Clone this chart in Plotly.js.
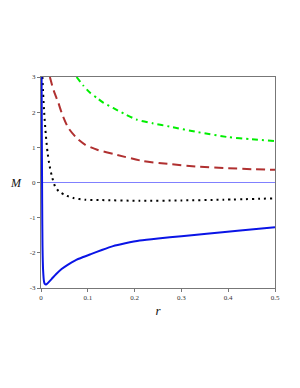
<!DOCTYPE html>
<html><head><meta charset="utf-8">
<script src="https://cdn.plot.ly/plotly-3.0.1.min.js"></script>
<style>html,body{margin:0;padding:0;background:#fff}#c{width:300px;height:388px}</style>
</head><body><div id="c"></div>
<script>
// Values
const rGreen = [0.076, 0.090, 0.105, 0.120, 0.133, 0.154, 0.180, 0.204, 0.240, 0.275, 0.336, 0.400, 0.450, 0.500];
const mGreen = [3.0, 2.76, 2.55, 2.40, 2.27, 2.12, 1.94, 1.79, 1.68, 1.59, 1.43, 1.29, 1.23, 1.18];

const rRed = [0.019, 0.023, 0.027, 0.032, 0.037, 0.045, 0.058, 0.075, 0.094, 0.120, 0.158, 0.218, 0.270, 0.336, 0.400, 0.450, 0.500];
const mRed = [3.0, 2.80, 2.62, 2.44, 2.27, 1.95, 1.56, 1.28, 1.08, 0.93, 0.80, 0.61, 0.53, 0.45, 0.405, 0.38, 0.36];

const rBlack = [0.003, 0.0045, 0.0064, 0.010, 0.014, 0.018, 0.023, 0.030, 0.038, 0.050, 0.069, 0.094, 0.130, 0.210, 0.300, 0.390, 0.500];
const mBlack = [3.0, 2.55, 2.07, 1.40, 0.85, 0.50, 0.19, -0.11, -0.25, -0.35, -0.44, -0.49, -0.50, -0.52, -0.51, -0.49, -0.45];

const rBlue = [0.0012, 0.0015, 0.0018, 0.0022, 0.0025, 0.0032, 0.0045, 0.0065, 0.0085, 0.0107, 0.013, 0.016, 0.023, 0.032, 0.044, 0.057, 0.0725, 0.090, 0.108, 0.130, 0.154, 0.180, 0.211, 0.250, 0.300, 0.354, 0.420, 0.500];
const mBlue = [3.0, 2.2, 1.2, 0.2, -0.6, -1.8, -2.5, -2.82, -2.89, -2.90, -2.88, -2.84, -2.74, -2.61, -2.46, -2.34, -2.22, -2.12, -2.03, -1.92, -1.81, -1.73, -1.65, -1.59, -1.53, -1.46, -1.37, -1.27];

const xTicks = [0, 0.1, 0.2, 0.3, 0.4, 0.5];
const xTickText = ['0', '0.1', '0.2', '0.3', '0.4', '0.5'];
const yTicks = [-3, -2, -1, 0, 1, 2, 3];
const yTickText = ['-3', '-2', '-1', '0', '1', '2', '3'];
const zeroX = [0, 0.5];
const zeroY = [0, 0];

const traces = [
  {x: zeroX, y: zeroY, mode: 'lines', line: {color: '#8080ff', width: 1}},
  {x: rGreen, y: mGreen, mode: 'lines', line: {color: '#00ee00', width: 2, dash: '6px,4px,2px,4px', shape: 'spline', smoothing: 0.6}},
  {x: rRed, y: mRed, mode: 'lines', line: {color: '#b03030', width: 2, dash: '9px,5px', shape: 'spline', smoothing: 0.6}},
  {x: rBlack, y: mBlack, mode: 'lines', line: {color: '#000000', width: 2, dash: '2px,4px', shape: 'spline', smoothing: 0.6}},
  {x: rBlue, y: mBlue, mode: 'lines', line: {color: '#0a14e6', width: 2, shape: 'spline', smoothing: 0.6}}
];

const tickFont = {family: 'Liberation Serif, DejaVu Serif, serif', size: 7, color: '#333'};
const layout = {
  width: 300, height: 388,
  margin: {l: 41, r: 25, t: 77, b: 100},
  showlegend: false,
  paper_bgcolor: '#fff', plot_bgcolor: '#fff',
  xaxis: {
    range: [0, 0.5], tickvals: xTicks, ticktext: xTickText,
    showgrid: false, zeroline: false,
    showline: true, linecolor: '#777', linewidth: 1, mirror: true,
    ticks: 'outside', ticklen: 3, tickcolor: '#777',
    tickfont: tickFont,
    title: {text: '<i>r</i>', font: {family: 'Liberation Serif, serif', size: 13, color: '#111'}, standoff: 4}
  },
  yaxis: {
    range: [-3, 3], tickvals: yTicks, ticktext: yTickText,
    showgrid: false, zeroline: false,
    showline: true, linecolor: '#777', linewidth: 1, mirror: true,
    ticks: 'outside', ticklen: 3, tickcolor: '#777',
    tickfont: tickFont
  },
  annotations: [{
    text: '<i>M</i>', xref: 'paper', yref: 'y', x: -0.105, y: 0,
    xanchor: 'center', yanchor: 'middle', showarrow: false,
    font: {family: 'Liberation Serif, serif', size: 12, color: '#111'}
  }]
};
Plotly.newPlot('c', traces, layout, {staticPlot: true, displayModeBar: false});
</script>
</body></html>
